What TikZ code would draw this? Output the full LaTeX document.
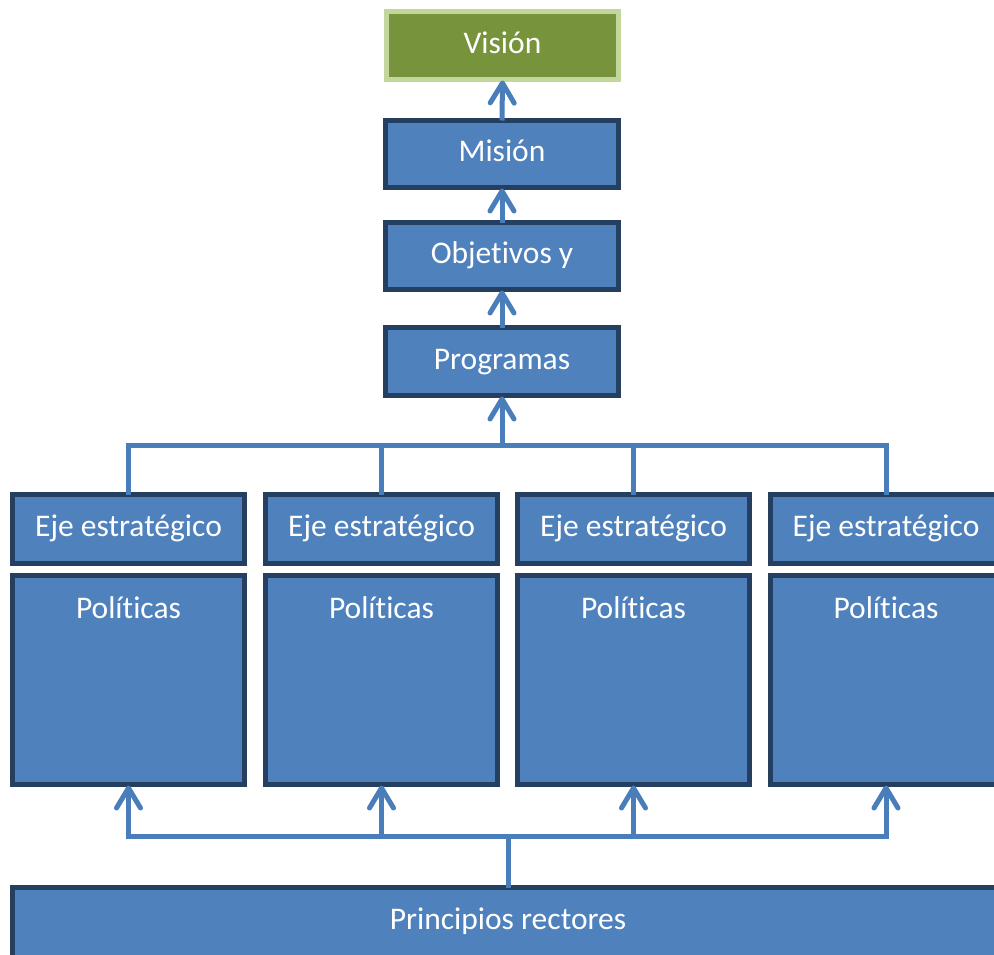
\documentclass[tikz,border=0pt]{standalone}
\usepackage{fontspec}
\setmainfont{Carlito}[Ligatures={NoCommon}]
\usetikzlibrary{arrows.meta}
\definecolor{bfill}{HTML}{4F81BD}
\definecolor{bdraw}{HTML}{243F60}
\definecolor{gfill}{HTML}{77933C}
\definecolor{gdraw}{HTML}{C3D69B}
\definecolor{conncol}{HTML}{4A7EBB}
\begin{document}
\begin{tikzpicture}[x=1pt,y=-1pt,
  txt/.style={text=white, font=\fontsize{31.5}{38}\selectfont,
    text height=22.7pt, text depth=7.6pt, inner sep=0pt},
  box/.style={txt, draw=bdraw, fill=bfill, line width=5pt, outer sep=0pt},
  gbox/.style={box, draw=gdraw, fill=gfill},
  topbox/.style={box, minimum width=233pt, minimum height=67pt},
  ejebox/.style={box, minimum width=232pt, minimum height=69pt},
  polbox/.style={box, minimum width=232pt, minimum height=209pt},
  toptext/.style={txt, anchor=center, yshift=#1},
  conn/.style={draw=conncol, line width=5pt},
  arr/.style={-{Straight Barb[length=20pt,width=24pt,line cap=round,line join=round]}, shorten >=1pt}
]
\useasboundingbox (0,0) rectangle (994,954);
\clip (0,0) rectangle (994,954);

\node[gbox, minimum width=232pt, minimum height=68pt] (vision) at (502.5,45.5) {Visión};
\node[topbox] (mision) at (502,154) {Misión};
\node[topbox] (obj) at (502,256) {Objetivos y};
\node[topbox, minimum height=68pt] (prog) at (502,361.5) {Programas};

\node[ejebox] (eje1) at (128.5,529) {Eje estratégico};
\node[ejebox] (eje2) at (381.5,529) {Eje estratégico};
\node[ejebox] (eje3) at (633.5,529) {Eje estratégico};
\node[ejebox] (eje4) at (886,529) {Eje estratégico};

\node[polbox, label={[toptext=-35.5pt]north:Políticas}] (pol1) at (128.5,680) {};
\node[polbox, label={[toptext=-35.5pt]north:Políticas}] (pol2) at (381.5,680) {};
\node[polbox, label={[toptext=-35.5pt]north:Políticas}] (pol3) at (633.5,680) {};
\node[polbox, label={[toptext=-35.5pt]north:Políticas}] (pol4) at (886,680) {};

\node[box, minimum width=991pt, minimum height=90pt,
  label={[toptext=-34pt]north:Principios rectores}] (princ) at (508,932.5) {};

% top arrows
\draw[conn,arr] (mision.north) -- (vision.south);
\draw[conn,arr] (obj.north) -- (mision.south);
\draw[conn,arr] (prog.north) -- (obj.south);

% top bus
\coordinate (tb) at (502,445);
\draw[conn,arr] (tb) -- (prog.south);
\draw[conn] (tb) -| (eje1.north);
\draw[conn] (tb) -| (eje4.north);
\draw[conn] (eje2.north |- tb) -- (eje2.north);
\draw[conn] (eje3.north |- tb) -- (eje3.north);

% bottom bus
\coordinate (bb) at (508,836);
\draw[conn] (princ.north) -- (bb);
\draw[conn,arr] (bb) -| (pol1.south);
\draw[conn,arr] (bb) -| (pol4.south);
\draw[conn,arr] (pol2.south |- bb) -- (pol2.south);
\draw[conn,arr] (pol3.south |- bb) -- (pol3.south);
\end{tikzpicture}
\end{document}
